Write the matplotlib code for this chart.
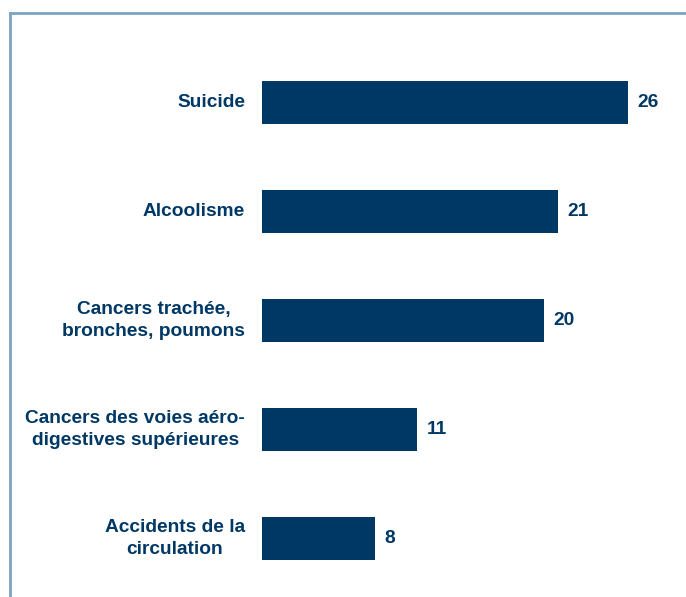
import matplotlib.pyplot as plt

# causes of death and values
causes = ["Suicide", "Alcoolisme", "Cancers trachée,\nbronches, poumons",
          "Cancers des voies aéro-\ndigestives supérieures", "Accidents de la\ncirculation"]
values = [26, 21, 20, 11, 8]

navy = "#003865"
border = "#7aa3c4"

plt.rcParams['font.family'] = ['Liberation Sans', 'DejaVu Sans']

fig = plt.figure(figsize=(6.86, 5.97), dpi=100)

# frame lines (top and left) around the chart area
fig.add_artist(plt.Line2D([10/686, 1], [1 - 12.5/597, 1 - 12.5/597], color=border, lw=2))
fig.add_artist(plt.Line2D([10/686, 10/686], [0, 1 - 12.5/597], color=border, lw=2))

ax = fig.add_axes([262/686, 4/597, 424/686, 545/597])
pos = range(len(causes))
ax.barh(pos, values, height=0.40, color=navy)
ax.set_xlim(0, 424/14.08)
ax.set_ylim(len(causes) - 0.5, -0.5)

for i, v in enumerate(values):
    ax.annotate(str(v), xy=(v, i), xytext=(7, 0), textcoords='offset points',
                va='center', ha='left', fontsize=13.8, fontweight='bold', color=navy)

for i, c in enumerate(causes):
    ax.annotate(c, xy=(0, i), xytext=(-12.2, 0), textcoords='offset points',
                va='center', ha='right', multialignment='center',
                fontsize=13.8, fontweight='bold', color=navy, linespacing=1.32)

ax.axis('off')
fig.savefig('out.png', dpi=100)
